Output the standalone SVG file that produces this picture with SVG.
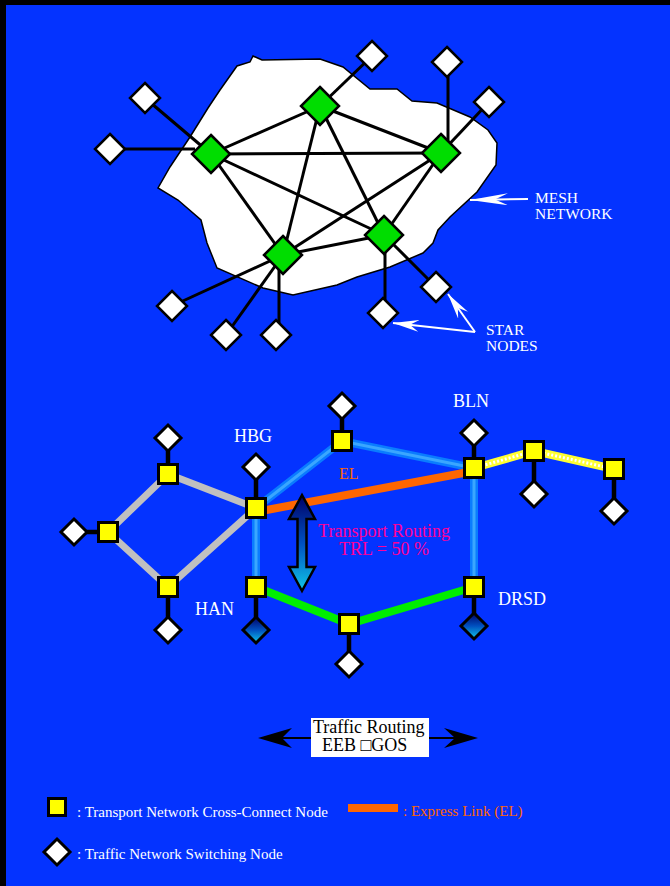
<svg xmlns="http://www.w3.org/2000/svg" width="670" height="886" viewBox="0 0 670 886">
  <style>
    .txt { font-family: "Liberation Serif", "Times New Roman", serif; }
    .lbl { font-size: 18px; fill: #ffffff; }
    .note { font-size: 15px; fill: #ffffff; }
    .callout { font-size: 15.5px; fill: #ffffff; }
    .mesh { stroke: #000; stroke-width: 3; fill: none; }
    .green { fill: #00dd00; stroke: #000; stroke-width: 2.5; }
    .star { fill: #ffffff; stroke: #000; stroke-width: 2.5; }
    .xc { fill: #ffff00; stroke: #000; stroke-width: 3; }
    .sw { fill: #ffffff; stroke: #000; stroke-width: 3; }
    .swg { fill: url(#deep); stroke: #000; stroke-width: 3; }
    .stub { stroke: #000; stroke-width: 4.5; }
    .gray { stroke: #c0c0c0; stroke-width: 7; fill: none; }
    .blue { stroke: #0a7cff; stroke-width: 8; fill: none; }
    .blueIn { stroke: #3aa6ff; stroke-width: 3; fill: none; }
    .grn { stroke: #00ee00; stroke-width: 8; fill: none; }
    .exp { stroke: #ff6600; stroke-width: 8; fill: none; }
    .yel { stroke: #ffff33; stroke-width: 8; fill: none; }
    .yelIn { stroke: #ffffff; stroke-width: 3; stroke-dasharray: 2 2; fill: none; }
    .pointer { stroke: #ffffff; stroke-width: 2; fill: none; }
  </style>
  <defs>
    <linearGradient id="deep" x1="0" y1="0" x2="0" y2="1">
      <stop offset="0" stop-color="#000066"/>
      <stop offset="0.5" stop-color="#0050c0"/>
      <stop offset="1" stop-color="#10c8e8"/>
    </linearGradient>
    <marker id="barb" markerUnits="userSpaceOnUse" viewBox="0 0 26 12" markerWidth="26" markerHeight="12" refX="26" refY="6" orient="auto">
      <path d="M26,6 L0,0 L9,6 L0,12 Z" fill="#ffffff"/>
    </marker>
    <marker id="barbLong" markerUnits="userSpaceOnUse" viewBox="0 0 38 12" markerWidth="38" markerHeight="12" refX="38" refY="6" orient="auto">
      <path d="M38,6 L0,0 L13,6 L0,12 Z" fill="#ffffff"/>
    </marker>
  </defs>

  <!-- frame -->
  <rect x="0" y="0" width="670" height="886" fill="#000"/>
  <rect x="6" y="5" width="664" height="881" fill="#0433ff"/>

  <!-- mesh network cloud -->
  <path id="cloud" d="M253,56 L262,60 L320,59 L343,67 L370,89 L397,89 L412,101 L437,103 L470,117 L488,130 L497,143 L496,165 L477,192 L450,217 L438,230 L433,243 L423,253 L390,267 L357,277 L337,285 L293,295 L263,288 L217,268 L207,243 L201,220 L178,200 L158,188 L170,167 L190,137 L208,108 L220,90 L237,66 L250,62 Z" fill="#ffffff" stroke="#000" stroke-width="1.5"/>

  <!-- upper connectors: full mesh plus star spurs -->
  <g id="mesh-links" class="mesh">
    <line x1="211" y1="154" x2="320" y2="106"/>
    <line x1="211" y1="154" x2="441" y2="153"/>
    <line x1="211" y1="154" x2="283" y2="255"/>
    <line x1="211" y1="154" x2="384" y2="235"/>
    <line x1="320" y1="106" x2="441" y2="153"/>
    <line x1="320" y1="106" x2="283" y2="255"/>
    <line x1="320" y1="106" x2="384" y2="235"/>
    <line x1="441" y1="153" x2="283" y2="255"/>
    <line x1="441" y1="153" x2="384" y2="235"/>
    <line x1="283" y1="255" x2="384" y2="235"/>
    <line x1="145" y1="98" x2="211" y2="154"/>
    <line x1="110" y1="149" x2="195" y2="149"/>
    <line x1="372" y1="56" x2="320" y2="106"/>
    <line x1="448" y1="62" x2="448" y2="146"/>
    <line x1="489" y1="102" x2="441" y2="153"/>
    <line x1="172" y1="306" x2="283" y2="255"/>
    <line x1="226" y1="335" x2="283" y2="255"/>
    <line x1="279" y1="335" x2="279" y2="258"/>
    <line x1="385" y1="313" x2="385" y2="238"/>
    <line x1="436" y1="287" x2="384" y2="235"/>
  </g>

  <!-- mesh nodes -->
  <g id="mesh-node-w"><polygon class="green" points="211,135 230,154 211,173 192,154"/></g>
  <g id="mesh-node-n"><polygon class="green" points="320,87 339,106 320,125 301,106"/></g>
  <g id="mesh-node-e"><polygon class="green" points="441,134 460,153 441,172 422,153"/></g>
  <g id="mesh-node-sw"><polygon class="green" points="283,236 302,255 283,274 264,255"/></g>
  <g id="mesh-node-se"><polygon class="green" points="384,216 403,235 384,254 365,235"/></g>

  <!-- star nodes -->
  <g id="star-1"><polygon class="star" points="145,83 160,98 145,113 130,98"/></g>
  <g id="star-2"><polygon class="star" points="110,134 125,149 110,164 95,149"/></g>
  <g id="star-3"><polygon class="star" points="372,41 387,56 372,71 357,56"/></g>
  <g id="star-4"><polygon class="star" points="447,47 462,62 447,77 432,62"/></g>
  <g id="star-5"><polygon class="star" points="489,87 504,102 489,117 474,102"/></g>
  <g id="star-6"><polygon class="star" points="172,291 187,306 172,321 157,306"/></g>
  <g id="star-7"><polygon class="star" points="226,320 241,335 226,350 211,335"/></g>
  <g id="star-8"><polygon class="star" points="276,320 291,335 276,350 261,335"/></g>
  <g id="star-9"><polygon class="star" points="383,298 398,313 383,328 368,313"/></g>
  <g id="star-10"><polygon class="star" points="436,272 451,287 436,302 421,287"/></g>

  <!-- callouts -->
  <g id="callouts">
    <line class="pointer" x1="528" y1="199" x2="470" y2="200" marker-end="url(#barbLong)"/>
    <line class="pointer" x1="475" y1="332" x2="393" y2="323" marker-end="url(#barb)"/>
    <line class="pointer" x1="475" y1="332" x2="448" y2="294" marker-end="url(#barb)"/>
  </g>
  <text class="txt callout" x="535" y="203">MESH</text>
  <text class="txt callout" x="535" y="219">NETWORK</text>
  <text class="txt callout" x="486" y="335">STAR</text>
  <text class="txt callout" x="486" y="351">NODES</text>

  <!-- lower connectors -->
  <g id="links">
    <polyline class="gray" points="256,508 168,474 108,532 168,587 256,508"/>
    <polyline class="blue" points="256,587 256,508 342,441 474,468 474,587"/>
    <polyline class="blueIn" points="256,587 256,508 342,441 474,468 474,587"/>
    <polyline class="grn" points="256,587 349,624 474,587"/>
    <line class="exp" x1="256" y1="512" x2="474" y2="471"/>
    <polyline class="yel" points="474,468 534,451 614,469"/>
    <polyline class="yelIn" points="474,468 534,451 614,469"/>
    <line class="stub" x1="168" y1="474" x2="168" y2="438"/>
    <line class="stub" x1="108" y1="532" x2="74" y2="532"/>
    <line class="stub" x1="168" y1="587" x2="168" y2="630"/>
    <line class="stub" x1="256" y1="508" x2="256" y2="467"/>
    <line class="stub" x1="256" y1="587" x2="256" y2="630"/>
    <line class="stub" x1="342" y1="441" x2="342" y2="406"/>
    <line class="stub" x1="349" y1="624" x2="349" y2="664"/>
    <line class="stub" x1="474" y1="468" x2="474" y2="433"/>
    <line class="stub" x1="474" y1="587" x2="474" y2="626"/>
    <line class="stub" x1="534" y1="451" x2="534" y2="494"/>
    <line class="stub" x1="614" y1="469" x2="614" y2="511"/>
  </g>

  <!-- switching nodes -->
  <g id="sw-tl"><polygon class="sw" points="168,425 181,438 168,451 155,438"/></g>
  <g id="sw-l"><polygon class="sw" points="74,519 87,532 74,545 61,532"/></g>
  <g id="sw-bl"><polygon class="sw" points="168,617 181,630 168,643 155,630"/></g>
  <g id="sw-hbg"><polygon class="sw" points="256,454 269,467 256,480 243,467"/></g>
  <g id="sw-han"><polygon class="swg" points="256,617 269,630 256,643 243,630"/></g>
  <g id="sw-mt"><polygon class="sw" points="342,393 355,406 342,419 329,406"/></g>
  <g id="sw-bm"><polygon class="sw" points="349,651 362,664 349,677 336,664"/></g>
  <g id="sw-bln"><polygon class="sw" points="474,420 487,433 474,446 461,433"/></g>
  <g id="sw-drsd"><polygon class="swg" points="474,613 487,626 474,639 461,626"/></g>
  <g id="sw-r1"><polygon class="sw" points="534,481 547,494 534,507 521,494"/></g>
  <g id="sw-r2"><polygon class="sw" points="614,498 627,511 614,524 601,511"/></g>

  <!-- cross-connect nodes -->
  <g id="xc-tl"><rect class="xc" x="158.5" y="464.5" width="19" height="19"/></g>
  <g id="xc-l"><rect class="xc" x="98.5" y="522.5" width="19" height="19"/></g>
  <g id="xc-bl"><rect class="xc" x="158.5" y="577.5" width="19" height="19"/></g>
  <g id="xc-hbg"><rect class="xc" x="246.5" y="498.5" width="19" height="19"/></g>
  <g id="xc-han"><rect class="xc" x="246.5" y="577.5" width="19" height="19"/></g>
  <g id="xc-mt"><rect class="xc" x="332.5" y="431.5" width="19" height="19"/></g>
  <g id="xc-bm"><rect class="xc" x="339.5" y="614.5" width="19" height="19"/></g>
  <g id="xc-bln"><rect class="xc" x="464.5" y="458.5" width="19" height="19"/></g>
  <g id="xc-drsd"><rect class="xc" x="464.5" y="577.5" width="19" height="19"/></g>
  <g id="xc-r1"><rect class="xc" x="524.5" y="441.5" width="19" height="19"/></g>
  <g id="xc-r2"><rect class="xc" x="604.5" y="459.5" width="19" height="19"/></g>

  <!-- transport routing indicator -->
  <g id="trl-arrow">
    <path d="M302,495 L315,519 L306.5,519 L306.5,567 L315,567 L302,591 L289,567 L297.5,567 L297.5,519 L289,519 Z" fill="url(#deep)" stroke="#000" stroke-width="2.5" stroke-linejoin="miter"/>
  </g>

  <!-- labels -->
  <text class="txt lbl" x="234" y="442">HBG</text>
  <text class="txt lbl" x="195" y="615">HAN</text>
  <text class="txt lbl" x="453" y="407">BLN</text>
  <text class="txt lbl" x="498" y="605">DRSD</text>
  <text class="txt" x="339" y="479" font-size="16" fill="#ff6600">EL</text>
  <text class="txt" x="384" y="537" font-size="18" fill="#ff0099" text-anchor="middle">Transport Routing</text>
  <text class="txt" x="384" y="555" font-size="18" fill="#ff0099" text-anchor="middle">TRL = 50 %</text>

  <!-- traffic routing -->
  <g id="traffic-routing">
    <line x1="282" y1="738" x2="311" y2="738" stroke="#000" stroke-width="2"/>
    <polygon points="258,738 292,728 282,738 292,748" fill="#000"/>
    <line x1="429" y1="738" x2="455" y2="738" stroke="#000" stroke-width="2"/>
    <polygon points="478,738 444,728 455,738 444,748" fill="#000"/>
    <rect x="311" y="718" width="118" height="39" fill="#ffffff"/>
    <text class="txt" x="313" y="733" font-size="18" fill="#000">Traffic Routing</text>
    <text class="txt" x="322" y="751" font-size="18" fill="#000">EEB □GOS</text>
  </g>

  <!-- legend -->
  <g id="legend">
    <rect class="xc" x="48.5" y="798.5" width="17" height="17"/>
    <text class="txt note" x="77" y="817">: Transport Network Cross-Connect Node</text>
    <rect x="348" y="804" width="50" height="8" fill="#ff6600"/>
    <text class="txt" x="403" y="816" font-size="15" fill="#ff6600">: Express Link (EL)</text>
    <polygon class="sw" points="57,839 70,852 57,865 44,852"/>
    <text class="txt note" x="77" y="859">: Traffic Network Switching Node</text>
  </g>
</svg>
